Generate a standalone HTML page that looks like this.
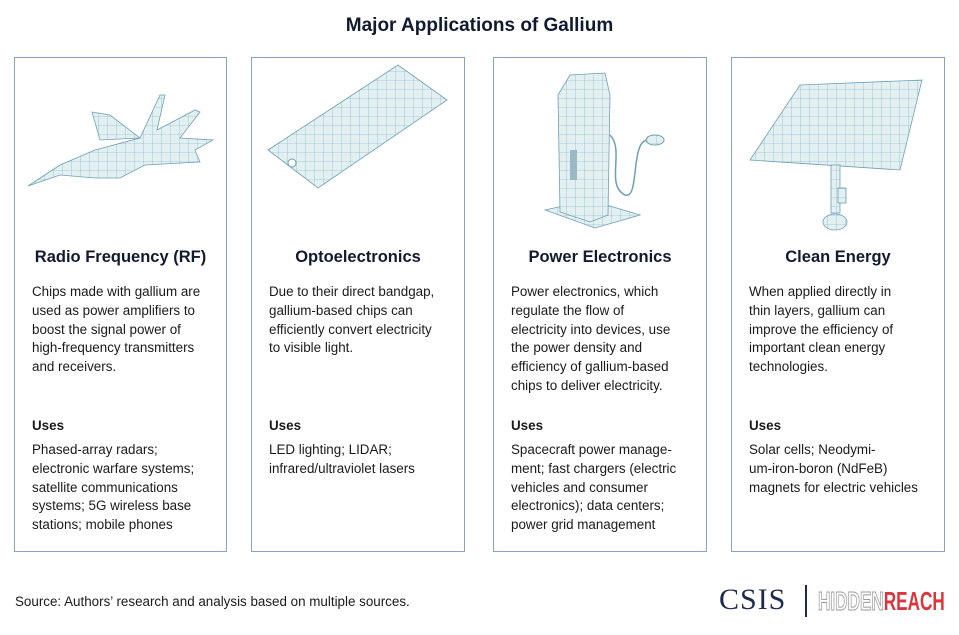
<!DOCTYPE html>
<html><head><meta charset="utf-8"><style>
body{margin:0;background:#fff;width:959px;height:635px;position:relative;font-family:"Liberation Sans",sans-serif;color:#1a1a1a;overflow:hidden}
.t{position:absolute;top:15px;left:0;width:959px;text-align:center;font-size:19px;font-weight:bold;color:#111a2e}
.box{position:absolute;top:57px;height:495px;border:1.5px solid #8aa4bd;box-sizing:border-box}
.h{position:absolute;top:190px;width:100%;text-align:center;font-size:16.5px;font-weight:bold;color:#111a2e}
.p{position:absolute;left:17px;top:225px;font-size:13.4px;line-height:18.8px;white-space:pre}
.u{position:absolute;left:17px;top:360px;font-size:13.4px;font-weight:bold}
.q{position:absolute;left:17px;top:383px;font-size:13.4px;line-height:18.8px;white-space:pre}
svg{position:absolute;left:0;top:0}
</style></head><body>
<svg width="959" height="635">
<defs>
<pattern id="g" width="9" height="9" patternUnits="userSpaceOnUse"><rect width="9" height="9" fill="#e2f0f2"/><path d="M9 0V9M0 9H9" stroke="#7fa9bd" stroke-width="0.6"/></pattern>
</defs>
<g stroke="#6f9fb4" stroke-width="0.8" fill="url(#g)">
<polygon points="28,186 60,165 95,150 140,138 160,95 165,95 157,130 195,110 200,112 180,138 213,140 195,150 200,162 145,165 120,178 95,178 60,175"/>
<polygon points="92,112 110,115 140,138 100,140"/>
<polygon points="268,150 398,65 447,100 318,188"/>
<polygon points="545,210 590,200 640,215 595,228"/>
<polygon points="558,95 570,75 605,73 610,95 608,215 590,222 560,212"/>
<polygon points="800,85 922,80 900,170 750,160"/>
<rect x="831" y="165" width="9" height="48"/>
<rect x="838" y="188" width="8" height="15"/>
<ellipse cx="835" cy="222" rx="12" ry="8"/>
</g>
<path d="M610 135 C625 150 605 185 625 195 C640 200 630 140 648 140" stroke="#6f9fb4" fill="none" stroke-width="1.5"/>
<ellipse cx="655" cy="140" rx="9" ry="5" fill="url(#g)" stroke="#6f9fb4"/>
<rect x="570" y="150" width="7" height="30" fill="#9bb8c6"/>
<circle cx="292" cy="163" r="4" fill="#fff" stroke="#6f9fb4"/>
</svg>
<div class="t">Major Applications of Gallium</div>
<div class="box" style="left:14px;width:213px"><div class="h">Radio Frequency (RF)</div>
<div class="p">Chips made with gallium are
used as power amplifiers to
boost the signal power of
high-frequency transmitters
and receivers.</div><div class="u">Uses</div>
<div class="q">Phased-array radars;
electronic warfare systems;
satellite communications
systems; 5G wireless base
stations; mobile phones</div></div>
<div class="box" style="left:251px;width:214px"><div class="h">Optoelectronics</div>
<div class="p">Due to their direct bandgap,
gallium-based chips can
efficiently convert electricity
to visible light.</div><div class="u">Uses</div>
<div class="q">LED lighting; LIDAR;
infrared/ultraviolet lasers</div></div>
<div class="box" style="left:493px;width:214px"><div class="h">Power Electronics</div>
<div class="p">Power electronics, which
regulate the flow of
electricity into devices, use
the power density and
efficiency of gallium-based
chips to deliver electricity.</div><div class="u">Uses</div>
<div class="q">Spacecraft power manage-
ment; fast chargers (electric
vehicles and consumer
electronics); data centers;
power grid management</div></div>
<div class="box" style="left:731px;width:214px"><div class="h">Clean Energy</div>
<div class="p">When applied directly in
thin layers, gallium can
improve the efficiency of
important clean energy
technologies.</div><div class="u">Uses</div>
<div class="q">Solar cells; Neodymi-
um-iron-boron (NdFeB)
magnets for electric vehicles</div></div>
<div style="position:absolute;left:15px;top:594px;font-size:13.4px">Source: Authors’ research and analysis based on multiple sources.</div>
<div style="position:absolute;left:719px;top:583px;font-family:'Liberation Serif',serif;font-size:30px;color:#1d2a4f;letter-spacing:1px">CSIS</div>
<div style="position:absolute;left:805px;top:585px;width:1.5px;height:32px;background:#1d2a4f"></div>
<div style="position:absolute;left:818px;top:586px;font-size:26px;font-weight:bold;transform:scaleX(0.66);transform-origin:left;white-space:nowrap"><span style="color:#fff;-webkit-text-stroke:1px #999">HIDDEN</span><span style="color:#d9363e">REACH</span></div>
</body></html>
